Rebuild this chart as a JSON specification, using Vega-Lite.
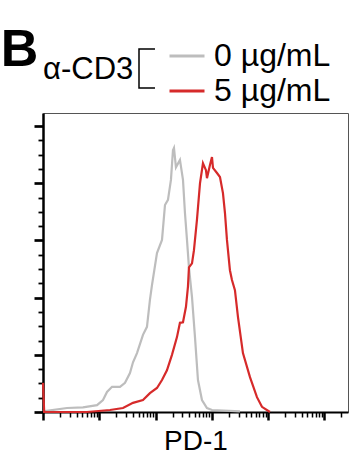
{
  "$schema": "https://vega.github.io/schema/vega-lite/v6.json",
  "width": 305,
  "height": 299,
  "autosize": {"type": "none"},
  "padding": {"left": 43, "top": 113, "right": 2, "bottom": 43},
  "background": "white",
  "config": {"view": {"stroke": "#555", "strokeWidth": 1}, "font": "Liberation Sans"},
  "title": {"text": "B", "anchor": "start", "fontSize": 52, "fontWeight": "bold", "font": "Liberation Sans", "color": "black", "baseline": "alphabetic", "offset": 0, "dy": 81, "dx": -32},
  "datasets": {
    "hist": [
      {"dose": "0 µg/mL", "fi": 1, "count": 0.01},
      {"dose": "0 µg/mL", "fi": 2.67, "count": 0.07},
      {"dose": "0 µg/mL", "fi": 5.13, "count": 0.08},
      {"dose": "0 µg/mL", "fi": 9.12, "count": 0.12},
      {"dose": "0 µg/mL", "fi": 11.64, "count": 0.21},
      {"dose": "0 µg/mL", "fi": 13.71, "count": 0.35},
      {"dose": "0 µg/mL", "fi": 16.83, "count": 0.44},
      {"dose": "0 µg/mL", "fi": 23.33, "count": 0.44},
      {"dose": "0 µg/mL", "fi": 28.64, "count": 0.51},
      {"dose": "0 µg/mL", "fi": 35.08, "count": 0.68},
      {"dose": "0 µg/mL", "fi": 39.72, "count": 0.87},
      {"dose": "0 µg/mL", "fi": 46.77, "count": 1.03},
      {"dose": "0 µg/mL", "fi": 59.7, "count": 1.35},
      {"dose": "0 µg/mL", "fi": 70.3, "count": 1.49},
      {"dose": "0 µg/mL", "fi": 79.4, "count": 1.96},
      {"dose": "0 µg/mL", "fi": 86.3, "count": 2.22},
      {"dose": "0 µg/mL", "fi": 105.9, "count": 2.78},
      {"dose": "0 µg/mL", "fi": 130.0, "count": 3.01},
      {"dose": "0 µg/mL", "fi": 146.9, "count": 3.62},
      {"dose": "0 µg/mL", "fi": 166.0, "count": 3.71},
      {"dose": "0 µg/mL", "fi": 187.5, "count": 4.06},
      {"dose": "0 µg/mL", "fi": 203.7, "count": 4.58},
      {"dose": "0 µg/mL", "fi": 212.3, "count": 4.62},
      {"dose": "0 µg/mL", "fi": 230.1, "count": 4.28},
      {"dose": "0 µg/mL", "fi": 271.0, "count": 4.41},
      {"dose": "0 µg/mL", "fi": 306.9, "count": 4.06},
      {"dose": "0 µg/mL", "fi": 332.7, "count": 3.48},
      {"dose": "0 µg/mL", "fi": 361.4, "count": 3.01},
      {"dose": "0 µg/mL", "fi": 391.7, "count": 2.53},
      {"dose": "0 µg/mL", "fi": 443.6, "count": 2.01},
      {"dose": "0 µg/mL", "fi": 501.2, "count": 1.31},
      {"dose": "0 µg/mL", "fi": 566.2, "count": 0.56},
      {"dose": "0 µg/mL", "fi": 666.8, "count": 0.21},
      {"dose": "0 µg/mL", "fi": 818.5, "count": 0.07},
      {"dose": "0 µg/mL", "fi": 1004.6, "count": 0.035},
      {"dose": "0 µg/mL", "fi": 3155, "count": 0.01},
      {"dose": "5 µg/mL", "fi": 1, "count": 0.51},
      {"dose": "5 µg/mL", "fi": 1.05, "count": 0},
      {"dose": "5 µg/mL", "fi": 6.03, "count": 0},
      {"dose": "5 µg/mL", "fi": 15.5, "count": 0.035},
      {"dose": "5 µg/mL", "fi": 26.4, "count": 0.07},
      {"dose": "5 µg/mL", "fi": 39.7, "count": 0.16},
      {"dose": "5 µg/mL", "fi": 59.7, "count": 0.21},
      {"dose": "5 µg/mL", "fi": 79.4, "count": 0.33},
      {"dose": "5 µg/mL", "fi": 105.9, "count": 0.42},
      {"dose": "5 µg/mL", "fi": 130.0, "count": 0.56},
      {"dose": "5 µg/mL", "fi": 159.2, "count": 0.73},
      {"dose": "5 µg/mL", "fi": 195.5, "count": 1.0},
      {"dose": "5 µg/mL", "fi": 239.9, "count": 1.31},
      {"dose": "5 µg/mL", "fi": 271.0, "count": 1.56},
      {"dose": "5 µg/mL", "fi": 306.9, "count": 1.57},
      {"dose": "5 µg/mL", "fi": 346.7, "count": 1.84},
      {"dose": "5 µg/mL", "fi": 375.8, "count": 2.19},
      {"dose": "5 µg/mL", "fi": 391.7, "count": 2.53},
      {"dose": "5 µg/mL", "fi": 443.6, "count": 2.6},
      {"dose": "5 µg/mL", "fi": 480.8, "count": 2.83},
      {"dose": "5 µg/mL", "fi": 543.3, "count": 3.36},
      {"dose": "5 µg/mL", "fi": 615.2, "count": 4.0},
      {"dose": "5 µg/mL", "fi": 695.0, "count": 4.35},
      {"dose": "5 µg/mL", "fi": 785.2, "count": 4.23},
      {"dose": "5 µg/mL", "fi": 818.5, "count": 4.09},
      {"dose": "5 µg/mL", "fi": 924.7, "count": 4.32},
      {"dose": "5 µg/mL", "fi": 1004.6, "count": 4.46},
      {"dose": "5 µg/mL", "fi": 1047, "count": 4.27},
      {"dose": "5 µg/mL", "fi": 1233, "count": 4.18},
      {"dose": "5 µg/mL", "fi": 1393, "count": 4.11},
      {"dose": "5 µg/mL", "fi": 1574, "count": 3.83},
      {"dose": "5 µg/mL", "fi": 1710, "count": 3.48},
      {"dose": "5 µg/mL", "fi": 1854, "count": 3.01},
      {"dose": "5 µg/mL", "fi": 2094, "count": 2.48},
      {"dose": "5 µg/mL", "fi": 2275, "count": 2.31},
      {"dose": "5 µg/mL", "fi": 2570, "count": 2.13},
      {"dose": "5 µg/mL", "fi": 2911, "count": 1.66},
      {"dose": "5 µg/mL", "fi": 3565, "count": 1.03},
      {"dose": "5 µg/mL", "fi": 4753, "count": 0.61},
      {"dose": "5 µg/mL", "fi": 6324, "count": 0.26},
      {"dose": "5 µg/mL", "fi": 7762, "count": 0.09},
      {"dose": "5 µg/mL", "fi": 10765, "count": 0}
    ],
    "bracket": [{"k": "α-CD3"}]
  },
  "layer": [
    {
      "data": {"name": "hist"},
      "mark": {"type": "line", "strokeWidth": 2.2},
      "encoding": {
        "x": {
          "field": "fi", "type": "quantitative",
          "scale": {"type": "log", "domain": [1, 262144], "nice": false},
          "axis": {
            "values": [1,2,3,4,5,6,7,8,9,10,20,30,40,50,60,70,80,90,100,200,300,400,500,600,700,800,900,1000,2000,3000,4000,5000,6000,7000,8000,9000,10000,20000,30000,40000,50000,60000,70000,80000,90000,100000,200000],
            "labels": false, "grid": false,
            "domainColor": "black", "domainWidth": 2,
            "tickColor": "black",
            "tickSize": {"condition": {"test": "indexof([1,10,100,1000,10000,100000], datum.value) >= 0", "value": 8}, "value": 5},
            "tickWidth": {"condition": {"test": "indexof([1,10,100,1000,10000,100000], datum.value) >= 0", "value": 2.5}, "value": 1.5},
            "title": "PD-1", "titleFont": "Liberation Sans", "titleFontSize": 28, "titleFontWeight": "normal", "titleColor": "black", "titlePadding": 6
          }
        },
        "y": {
          "field": "count", "type": "quantitative",
          "scale": {"domain": [0, 5.23], "nice": false},
          "axis": {
            "values": [0,0.25,0.5,0.75,1,1.25,1.5,1.75,2,2.25,2.5,2.75,3,3.25,3.5,3.75,4,4.25,4.5,4.75,5],
            "labels": false, "grid": false, "title": null,
            "domainColor": "black", "domainWidth": 2.5,
            "tickColor": "black",
            "tickSize": {"condition": {"test": "datum.value % 1 == 0", "value": 9}, "value": 5},
            "tickWidth": {"condition": {"test": "datum.value % 1 == 0", "value": 2.7}, "value": 1.8}
          }
        },
        "color": {
          "field": "dose", "type": "nominal",
          "scale": {"domain": ["0 µg/mL", "5 µg/mL"], "range": ["#bdbdbd", "#d62a2a"]},
          "legend": {
            "orient": "none", "legendX": 125, "legendY": -76, "title": null, "padding": 0,
            "symbolType": "stroke", "symbolSize": 1225, "symbolStrokeWidth": 3,
            "labelFontSize": 32, "labelFont": "Liberation Sans", "labelColor": "black",
            "labelOffset": 8, "rowPadding": 0, "labelLimit": 300
          }
        }
      }
    },
    {
      "data": {"name": "bracket"},
      "mark": {"type": "point", "opacity": 0},
      "encoding": {
        "shape": {
          "field": "k", "type": "nominal",
          "scale": {"range": ["M-0.18,-1H-1V1H-0.18"]},
          "legend": {
            "orient": "none", "legendX": 0, "legendY": -65, "padding": 0,
            "title": "α-CD3", "titleOrient": "left", "titleFontSize": 31, "titleFont": "Liberation Sans",
            "titleFontWeight": "normal", "titleColor": "black", "titlePadding": 4,
            "labelExpr": "''", "symbolSize": 1521, "symbolStrokeColor": "black",
            "symbolStrokeWidth": 1.5, "symbolFillColor": "transparent", "symbolOpacity": 1
          }
        }
      }
    }
  ]
}
